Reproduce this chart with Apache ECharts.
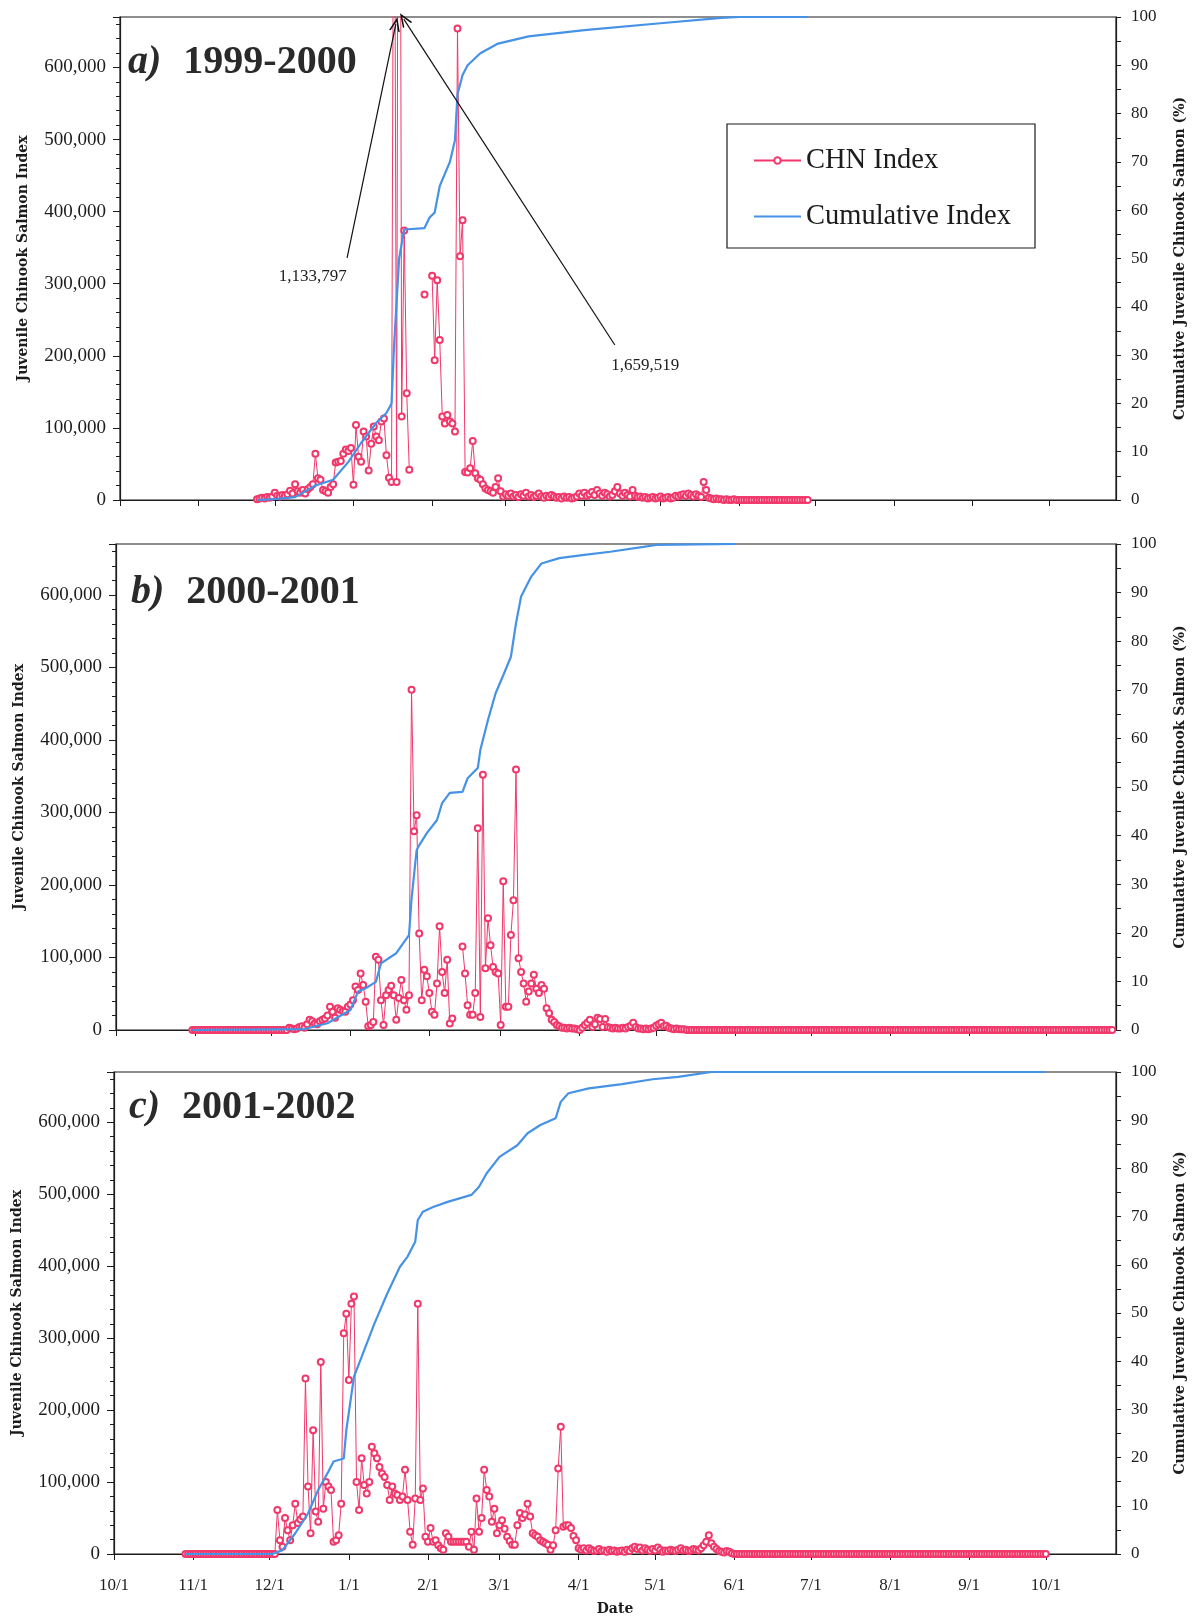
<!DOCTYPE html>
<html>
<head>
<meta charset="utf-8">
<title>Juvenile Chinook Salmon Index</title>
<script src="https://cdn.jsdelivr.net/npm/echarts@6/dist/echarts.min.js"></script>
<style>
  html, body { margin: 0; padding: 0; background: #fff; }
  #chart { width: 1195px; height: 1617px; }
</style>
</head>
<body>
<div id="chart"></div>
<script>
var RED = '#f0386b', BLUE = '#4592e6', INK = '#1c1c1c';
var SERIF = '"Liberation Serif", "Times New Roman", serif';
var SERIF_WIDE = '"DejaVu Serif", serif';

// panel labels
var panelTags = ['a)', 'b)', 'c)'];
var seasons = ['1999-2000', '2000-2001', '2001-2002'];
var firstYears = [1999, 2000, 2001];
var xEnds = ['2000-10-27 12', '2001-10-28 12', '2002-10-28 12'];
var monthTicks = ['10/1', '11/1', '12/1', '1/1', '2/1', '3/1', '4/1', '5/1', '6/1', '7/1', '8/1', '9/1', '10/1'];

// daily CHN index, a) starts 1999-11-24
var chnStartA = '1999-11-24';
var chnA = [
  // Nov 24-30
  1000, 2000, 3000, 2000, 4000, 3000, 5000,
  // Dec
  10000, 6000, 5000, 7000, 6000, 8000, 13000, 9000, 22000, 12000,
  10000, 14000, 9000, 15000, 18000, 22000, 64000, 30000, 28000, 14000,
  12000, 10000, 18000, 22000, 52000, 53000, 54000, 64000, 70000, 68000,
  72000,
  // Jan
  21000, 104000, 60000, 53000, 95000, 88000, 41000, 78000, 102000, 88000,
  83000, 109000, 113000, 62000, 31000, 25000, 1133797, 25000, 1659519, 116000,
  374000, 148000, 42000, null, null, null, null, null, 285000, null,
  null,
  // Feb
  311000, 194000, 305000, 222000, 116000, 106000, 118000, 109000, 106000, 95000,
  654000, 338000, 388000, 39000, 38000, 44000, 82000, 37000, 30000, 28000,
  22000, 16000, 14000, 12000, 10000, 18000, 30000, 12000, 5000,
  // Mar
  8000, 6000, 9000, 5000, 7000, 4000, 8000, 6000, 10000, 5000,
  7000, 4000, 6000, 9000, 5000, 3000, 6000, 4000, 7000, 5000,
  3000, 4000, 2000, 5000, 3000, 4000, 2000, 3000, 5000, 9000,
  6000,
  // Apr
  10000, 6000, 8000, 11000, 7000, 14000, 9000, 6000, 10000, 8000,
  5000, 7000, 12000, 18000, 9000, 6000, 10000, 7000, 5000, 14000,
  6000, 4000, 5000, 3000, 4000, 2000, 3000, 4000, 2000, 3000,
  // May
  5000, 2000, 3000, 4000, 2000, 3000, 6000, 5000, 7000, 8000,
  6000, 9000, 7000, 5000, 8000, 6000, 4000, 25000, 14000, 3000,
  2000, 1000, 2000, 1000, 1000, 0, 1000, 0, 0, 1000,
  0,
  // Jun 1-28
  0, 0, 0, 0, 0, 0, 0, 0, 0, 0,
  0, 0, 0, 0, 0, 0, 0, 0, 0, 0,
  0, 0, 0, 0, 0, 0, 0, 0
];

// b) starts 2000-10-31
var chnStartB = '2000-10-31';
var chnB = [
  // Oct 31 - Dec 7
  0, 0, 0, 0, 0, 0, 0, 0, 0, 0,
  0, 0, 0, 0, 0, 0, 0, 0, 0, 0,
  0, 0, 0, 0, 0, 0, 0, 0, 0, 0,
  0, 0, 0, 0, 0, 0, 0, 0,
  // Dec 8-31
  3000, 2000, 1000, 2000, 4000, 5000, 3000, 8000, 14000, 12000,
  9000, 8000, 12000, 14000, 16000, 20000, 32000, 25000, 17000, 30000,
  28000, 26000, 25000, 32000,
  // Jan
  35000, 41000, 60000, 55000, 78000, 62000, 39000, 5000, 7000, 11000,
  101000, 97000, 41000, 7000, 48000, 55000, 61000, 48000, 14000, 44000,
  69000, 41000, 28000, 48000, 469000, 274000, 296000, 133000, 41000, 83000,
  74000,
  // Feb
  51000, 25000, 21000, 64000, 143000, 80000, 51000, 97000, 9000, 16000,
  null, null, null, 115000, 78000, 34000, 21000, 21000, 51000, 278000,
  18000, 352000, 85000, 154000, 117000, 87000, 80000, 78000,
  // Mar
  7000, 205000, 32000, 32000, 131000, 179000, 359000, 99000, 80000, 64000,
  39000, 53000, 64000, 76000, 57000, 51000, 62000, 57000, 30000, 23000,
  14000, 11000, 7000, 5000, 3000, 3000, 2000, 3000, 2000, 2000,
  1000,
  // Apr
  0, 3000, 7000, 10000, 14000, 4000, 8000, 17000, 15000, 4000,
  15000, 4000, 3000, 2000, 3000, 2000, 2000, 3000, 2000, 4000,
  6000, 10000, 4000, 2000, 2000, 1000, 2000, 1000, 2000, 3000,
  // May 1-12
  6000, 8000, 10000, 5000, 6000, 3000, 2000, 1000, 2000, 1000, 1000, 1000,
  // May 13 - Oct 27
  0, 0, 0, 0, 0, 0, 0, 0, 0, 0,
  0, 0, 0, 0, 0, 0, 0, 0, 0, 0,
  0, 0, 0, 0, 0, 0, 0, 0, 0, 0,
  0, 0, 0, 0, 0, 0, 0, 0, 0, 0,
  0, 0, 0, 0, 0, 0, 0, 0, 0, 0,
  0, 0, 0, 0, 0, 0, 0, 0, 0, 0,
  0, 0, 0, 0, 0, 0, 0, 0, 0, 0,
  0, 0, 0, 0, 0, 0, 0, 0, 0, 0,
  0, 0, 0, 0, 0, 0, 0, 0, 0, 0,
  0, 0, 0, 0, 0, 0, 0, 0, 0, 0,
  0, 0, 0, 0, 0, 0, 0, 0, 0, 0,
  0, 0, 0, 0, 0, 0, 0, 0, 0, 0,
  0, 0, 0, 0, 0, 0, 0, 0, 0, 0,
  0, 0, 0, 0, 0, 0, 0, 0, 0, 0,
  0, 0, 0, 0, 0, 0, 0, 0, 0, 0,
  0, 0, 0, 0, 0, 0, 0, 0, 0, 0,
  0, 0, 0, 0, 0, 0, 0, 0
];

// c) starts 2001-10-29
var chnStartC = '2001-10-29';
var chnC = [
  // Oct 29 - Dec 3
  0, 0, 0, 0, 0, 0, 0, 0, 0, 0,
  0, 0, 0, 0, 0, 0, 0, 0, 0, 0,
  0, 0, 0, 0, 0, 0, 0, 0, 0, 0,
  0, 0, 0, 0, 0, 0,
  // Dec 4-31
  61000, 19000, 10000, 50000, 33000, 19000, 40000, 70000, 43000, 48000,
  52000, 244000, 94000, 29000, 172000, 59000, 45000, 267000, 63000, 100000,
  94000, 89000, 17000, 19000, 26000, 70000, 307000, 334000,
  // Jan
  242000, 348000, 358000, 100000, 61000, 133000, 96000, 84000, 100000, 149000,
  140000, 133000, 121000, 112000, 107000, 96000, 75000, 94000, 84000, 82000,
  75000, 80000, 117000, 75000, 31000, 13000, 77000, 348000, 75000, 91000,
  24000,
  // Feb
  17000, 36000, 17000, 19000, 12000, 8000, 6000, 29000, 24000, 17000,
  17000, 17000, 17000, 17000, 17000, 17000, 10000, 31000, 6000, 77000,
  31000, 50000, 117000, 89000, 80000, 45000, 63000, 29000,
  // Mar
  40000, 47000, 35000, 24000, 18000, 13000, 13000, 40000, 57000, 50000,
  55000, 70000, 52000, 29000, 26000, 24000, 19000, 17000, 15000, 13000,
  6000, 12000, 33000, 119000, 177000, 38000, 40000, 40000, 36000, 25000,
  19000,
  // Apr
  8000, 6000, 8000, 5000, 8000, 6000, 4000, 5000, 7000, 4000,
  5000, 3000, 6000, 4000, 5000, 3000, 4000, 5000, 3000, 6000,
  4000, 8000, 10000, 7000, 9000, 5000, 8000, 6000, 4000, 7000,
  // May
  5000, 9000, 6000, 3000, 5000, 4000, 6000, 5000, 4000, 6000,
  8000, 5000, 6000, 4000, 5000, 7000, 6000, 5000, 8000, 12000,
  17000, 26000, 15000, 10000, 7000, 4000, 3000, 2000, 4000, 3000,
  1000,
  // Jun 1 - Oct 1
  0, 0, 0, 0, 0, 0, 0, 0, 0, 0,
  0, 0, 0, 0, 0, 0, 0, 0, 0, 0,
  0, 0, 0, 0, 0, 0, 0, 0, 0, 0,
  0, 0, 0, 0, 0, 0, 0, 0, 0, 0,
  0, 0, 0, 0, 0, 0, 0, 0, 0, 0,
  0, 0, 0, 0, 0, 0, 0, 0, 0, 0,
  0, 0, 0, 0, 0, 0, 0, 0, 0, 0,
  0, 0, 0, 0, 0, 0, 0, 0, 0, 0,
  0, 0, 0, 0, 0, 0, 0, 0, 0, 0,
  0, 0, 0, 0, 0, 0, 0, 0, 0, 0,
  0, 0, 0, 0, 0, 0, 0, 0, 0, 0,
  0, 0, 0, 0, 0, 0, 0, 0, 0, 0,
  0, 0, 0
];

// cumulative index (%)
var cumA = [
  ['1999-11-24', 0], ['1999-12-01', 0.2], ['1999-12-09', 0.6], ['1999-12-17', 3],
  ['1999-12-24', 4.2], ['1999-12-30', 7.9], ['2000-01-04', 11.8], ['2000-01-10', 16],
  ['2000-01-14', 18], ['2000-01-16', 20], ['2000-01-17', 32], ['2000-01-19', 50],
  ['2000-01-21', 56], ['2000-01-29', 56.3], ['2000-01-31', 58.5], ['2000-02-02', 59.5],
  ['2000-02-04', 65], ['2000-02-08', 70], ['2000-02-10', 74.5], ['2000-02-11', 84],
  ['2000-02-13', 88], ['2000-02-15', 90], ['2000-02-20', 92.5], ['2000-02-27', 94.5],
  ['2000-03-10', 96], ['2000-04-01', 97.3], ['2000-05-01', 98.7], ['2000-05-25', 99.8],
  ['2000-06-01', 100], ['2000-06-28', 100]
];
var cumB = [
  ['2000-10-31', 0], ['2000-12-14', 0.2], ['2000-12-23', 1.4], ['2001-01-01', 4.1],
  ['2001-01-04', 7.9], ['2001-01-07', 8.6], ['2001-01-11', 9.9], ['2001-01-13', 13.7],
  ['2001-01-19', 15.8], ['2001-01-24', 19.5], ['2001-01-25', 27], ['2001-01-27', 37],
  ['2001-01-28', 38], ['2001-01-31', 40.5], ['2001-02-04', 43.2], ['2001-02-06', 46.7],
  ['2001-02-09', 48.8], ['2001-02-14', 49], ['2001-02-16', 51.8], ['2001-02-20', 53.9],
  ['2001-02-21', 57.6], ['2001-02-24', 63.8], ['2001-02-27', 69.3], ['2001-03-02', 73],
  ['2001-03-05', 76.8], ['2001-03-07', 83.7], ['2001-03-09', 89.2], ['2001-03-13', 93.3],
  ['2001-03-17', 96], ['2001-03-24', 97.1], ['2001-04-02', 97.7], ['2001-04-13', 98.4],
  ['2001-04-26', 99.4], ['2001-05-01', 99.8], ['2001-06-01', 100]
];
var cumC = [
  ['2001-10-29', 0], ['2001-12-02', 0], ['2001-12-06', 0.8], ['2001-12-11', 4.3],
  ['2001-12-16', 8.4], ['2001-12-20', 13.3], ['2001-12-24', 17.1], ['2001-12-26', 19.2],
  ['2001-12-30', 19.8], ['2001-12-31', 25.7], ['2002-01-03', 36.8], ['2002-01-06', 40.9],
  ['2002-01-11', 47.8], ['2002-01-16', 54], ['2002-01-21', 59.6], ['2002-01-24', 61.7],
  ['2002-01-27', 64.8], ['2002-01-28', 69.3], ['2002-01-30', 71], ['2002-02-03', 72],
  ['2002-02-09', 73.1], ['2002-02-18', 74.5], ['2002-02-21', 76.2], ['2002-02-24', 79],
  ['2002-03-01', 82.4], ['2002-03-08', 84.8], ['2002-03-12', 87.3], ['2002-03-17', 89],
  ['2002-03-23', 90.4], ['2002-03-25', 93.8], ['2002-03-28', 95.6], ['2002-04-05', 96.6],
  ['2002-04-18', 97.5], ['2002-04-30', 98.5], ['2002-05-10', 99], ['2002-05-23', 100],
  ['2002-10-01', 100]
];

// off-scale peaks in a), label position and arrow (start -> tip)
var calloutLabels = [
  { text: '1,133,797', at: ['1999-12-16', 310000] },
  { text: '1,659,519', at: ['2000-04-25', 187000] }
];
var calloutArrows = [
  [['1999-12-29 12', 336000], ['2000-01-17 17', 660000]],
  [['2000-04-13', 215000], ['2000-01-20 20', 667000]]
];

// panel frames (px)
var grids = [
  { left: 120, top: 17, width: 1000, height: 483 },
  { left: 116, top: 544, width: 1001, height: 486 },
  { left: 114, top: 1072, width: 1007, height: 482 }
];
var titlePos = [[128, 43], [131, 573], [129, 1088]];

function toTime(s) {
  var p = s.split(/[- ]/);
  return new Date(+p[0], +p[1] - 1, +p[2], +(p[3] || 0)).getTime();
}
function daily(start, values) {
  var p = start.split('-');
  return values.map(function (v, i) {
    return [new Date(+p[0], +p[1] - 1, +p[2] + i).getTime(), v];
  });
}
function pairs(list) {
  return list.map(function (d) { return [toTime(d[0]), d[1]]; });
}
function tickTimes(y0) {
  return monthTicks.map(function (lab, k) {
    return new Date(k < 3 ? y0 : y0 + 1, parseInt(lab, 10) - 1, 1).getTime();
  });
}
// month label for a tick value (nearest tick, tolerant of rounding)
function monthLabel(ticks, v) {
  var best = 0;
  for (var k = 1; k < ticks.length; k++) {
    if (Math.abs(ticks[k] - v) < Math.abs(ticks[best] - v)) best = k;
  }
  return monthTicks[best];
}

var chnData = [daily(chnStartA, chnA), daily(chnStartB, chnB), daily(chnStartC, chnC)];
var cumData = [pairs(cumA), pairs(cumB), pairs(cumC)];

var ARROW = 'path://M0,20 L10,0 L20,20 L17,20 L10,6 L3,20 Z';

var option = {
  animation: false,
  backgroundColor: '#fff',
  title: [0, 1, 2].map(function (i) {
    return {
      left: titlePos[i][0], top: titlePos[i][1], padding: 0,
      text: '{t|' + panelTags[i] + '}{s|' + seasons[i] + '}',
      textStyle: {
        rich: {
          t: { fontFamily: SERIF, fontSize: 40, fontWeight: 'bold', fontStyle: 'italic', color: '#2a2a2a', padding: [0, 22, 0, 0] },
          s: { fontFamily: SERIF, fontSize: 40, fontWeight: 'bold', color: '#2a2a2a' }
        }
      }
    };
  }),
  legend: {
    data: [
      { name: 'CHN Index' },
      { name: 'Cumulative Index', itemStyle: { opacity: 0 } }
    ],
    orient: 'vertical', left: 727, top: 124,
    padding: [22, 24, 17, 26], itemGap: 27,
    itemWidth: 47, itemHeight: 8,
    borderColor: INK, borderWidth: 1.2,
    selectedMode: false,
    textStyle: { fontFamily: SERIF, fontSize: 28.5, color: INK }
  },
  grid: grids.map(function (g) {
    return { left: g.left, top: g.top, width: g.width, height: g.height, show: true, borderColor: INK, borderWidth: 1.2, backgroundColor: 'transparent' };
  }),
  xAxis: [0, 1, 2].map(function (i) {
    var ticks = tickTimes(firstYears[i]);
    return {
      type: 'value', gridIndex: i,
      min: toTime(firstYears[i] + '-10-01'), max: toTime(xEnds[i]),
      axisLine: { lineStyle: { color: INK, width: 1.2 } },
      axisTick: { show: true, length: 6, customValues: ticks, lineStyle: { color: INK } },
      axisLabel: {
        show: i === 2, customValues: ticks, margin: 14, padding: [9, 0, 0, 0],
        showMinLabel: true, showMaxLabel: true, hideOverlap: false,
        fontFamily: SERIF, fontSize: 17, color: INK,
        formatter: function (v) { return monthLabel(ticks, v); }
      },
      splitLine: { show: false },
      name: i === 2 ? 'Date' : '', nameLocation: 'middle', nameGap: 48, nameMoveOverlap: false,
      nameTextStyle: { fontFamily: SERIF_WIDE, fontWeight: 'bold', fontSize: 14, color: INK }
    };
  }),
  yAxis: [],
  series: []
};

[0, 1, 2].forEach(function (i) {
  option.yAxis.push({
    type: 'value', gridIndex: i, position: 'left',
    min: 0, max: 670000, interval: 100000,
    axisLine: { show: true, lineStyle: { color: INK, width: 1.2 } },
    axisTick: { show: true, length: 7, lineStyle: { color: INK } },
    minorTick: { show: true, splitNumber: 5, length: 4, lineStyle: { color: INK } },
    axisLabel: {
      margin: 14, showMaxLabel: false, fontFamily: SERIF, fontSize: 19, color: INK,
      formatter: function (v) { return v.toLocaleString('en-US'); }
    },
    splitLine: { show: false },
    name: 'Juvenile Chinook Salmon Index', nameLocation: 'middle', nameRotate: 90, nameGap: 90, nameMoveOverlap: false,
    nameTextStyle: { fontFamily: SERIF_WIDE, fontWeight: 'bold', fontSize: 14, color: INK }
  });
  option.yAxis.push({
    type: 'value', gridIndex: i, position: 'right',
    min: 0, max: 100, interval: 10,
    axisLine: { show: true, lineStyle: { color: INK, width: 1.2 } },
    axisTick: { show: true, length: 5, lineStyle: { color: INK } },
    minorTick: { show: true, splitNumber: 2, length: 5, lineStyle: { color: INK } },
    axisLabel: { margin: 15, fontFamily: SERIF, fontSize: 17, color: INK },
    splitLine: { show: false },
    name: 'Cumulative Juvenile Chinook Salmon (%)', nameLocation: 'middle', nameRotate: 90, nameGap: 57, nameMoveOverlap: false,
    nameTextStyle: { fontFamily: SERIF_WIDE, fontWeight: 'bold', fontSize: 14, color: INK }
  });

  var chn = {
    name: 'CHN Index', type: 'line', xAxisIndex: i, yAxisIndex: 2 * i,
    data: chnData[i], clip: true, connectNulls: false,
    symbol: 'emptyCircle', symbolSize: 6, showAllSymbol: true,
    lineStyle: { color: RED, width: 1 },
    itemStyle: { color: RED, borderWidth: 1.1 },
    z: 2
  };
  if (i === 0) {
    chn.markLine = {
      silent: true, symbol: ['none', ARROW], symbolSize: [11, 14],
      lineStyle: { color: '#111', width: 1.2, type: 'solid' },
      label: { show: false },
      data: calloutArrows.map(function (a) {
        return [{ coord: [toTime(a[0][0]), a[0][1]] }, { coord: [toTime(a[1][0]), a[1][1]] }];
      })
    };
    chn.markPoint = {
      silent: true, symbol: 'circle', symbolSize: 1,
      itemStyle: { color: 'rgba(0,0,0,0)' },
      label: { show: true, position: 'inside', formatter: '{b}', fontFamily: SERIF, fontSize: 17, color: INK },
      data: calloutLabels.map(function (c) {
        return { name: c.text, coord: [toTime(c.at[0]), c.at[1]] };
      })
    };
  }
  option.series.push(chn);
  option.series.push({
    name: 'Cumulative Index', type: 'line', xAxisIndex: i, yAxisIndex: 2 * i + 1,
    data: cumData[i], symbol: 'none', clip: true,
    lineStyle: { color: BLUE, width: 2.2 },
    itemStyle: { color: BLUE },
    z: 3
  });
});

var chart = echarts.init(document.getElementById('chart'));
chart.setOption(option);
</script>
</body>
</html>
